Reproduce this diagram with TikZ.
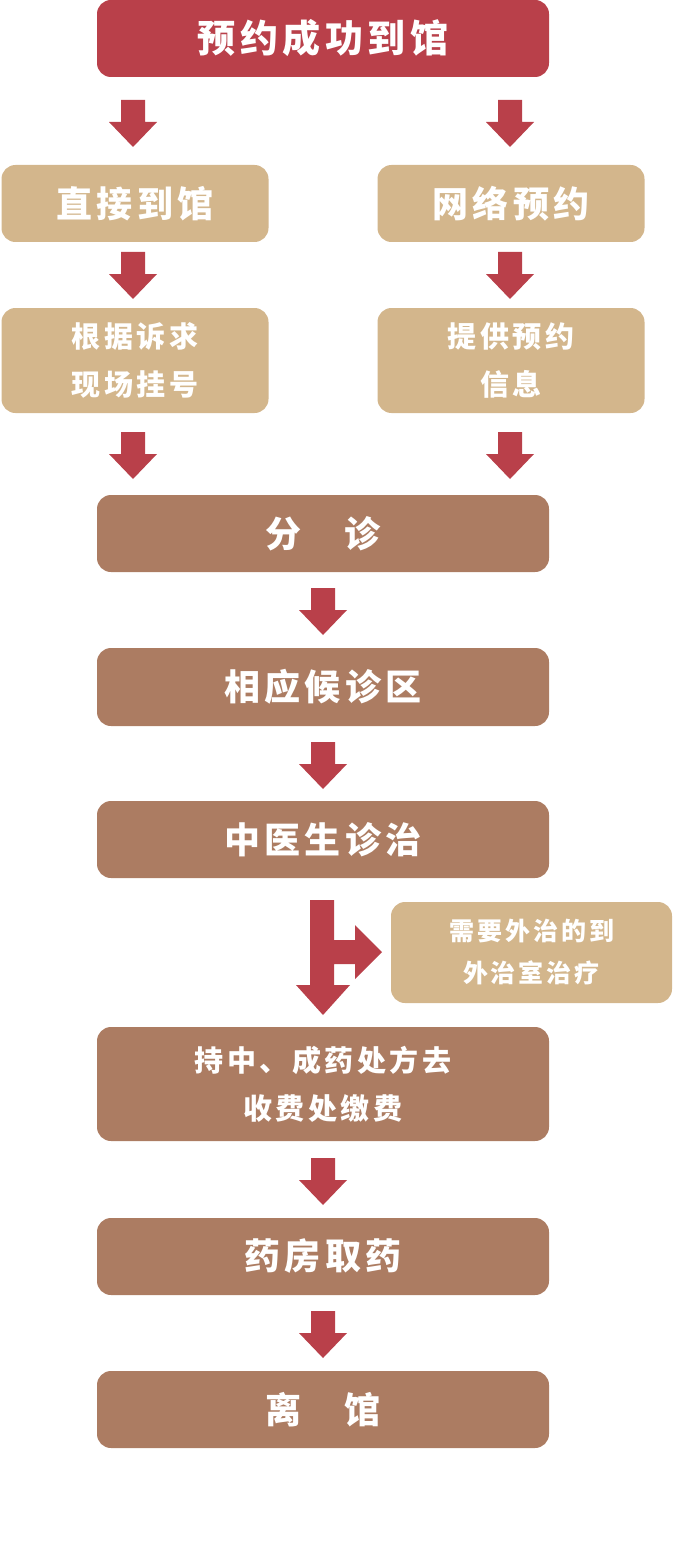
\documentclass[tikz,border=0pt]{standalone}
\usepackage{fontspec}
\newfontfamily\cjk{Noto Sans CJK SC}[LetterSpace=12]
\usetikzlibrary{positioning}
\definecolor{topred}{HTML}{B9404A}
\definecolor{tan}{HTML}{D3B68C}
\definecolor{brownbox}{HTML}{AC7C62}
\definecolor{arrowred}{HTML}{B9404A}
\tikzset{
  box/.style={rounded corners=14pt,text=white,align=center,font=\cjk\bfseries,inner sep=0pt},
  wide/.style={box,fill=brownbox,minimum width=452pt},
  side/.style={box,fill=tan,minimum width=267pt},
  downarr/.pic={\fill[arrowred] (-12,0) -- (12,0) -- (12,22) -- (24,22) -- (0,47) -- (-24,22) -- (-12,22) -- cycle;}
}
\begin{document}
\begin{tikzpicture}[x=1pt,y=-1pt]
\useasboundingbox (0,0) rectangle (672,1562);
\node[box,fill=topred,minimum width=452pt,minimum height=77pt,font=\cjk\bfseries\fontsize{38}{44}\selectfont] (start) at (323,38.5) {预约成功到馆};
\node[side,minimum height=77pt,font=\cjk\bfseries\fontsize{36}{42}\selectfont] (direct) at (135,203.5) {直接到馆};
\node[side,minimum height=77pt,font=\cjk\bfseries\fontsize{36}{42}\selectfont] (online) at (511,203.5) {网络预约};
\node[side,minimum height=105pt,font=\cjk\bfseries\fontsize{29}{48}\selectfont] (register) at (135,360.5) {根据诉求\\现场挂号};
\node[side,minimum height=105pt,font=\cjk\bfseries\fontsize{29}{48}\selectfont] (info) at (511,360.5) {提供预约\\信息};
\node[wide,minimum height=77pt,font=\cjk\bfseries\fontsize{36}{42}\selectfont] (triage) at (323,533.5) {分\hspace{1.2em}诊};
\node[wide,minimum height=78pt,font=\cjk\bfseries\fontsize{36}{42}\selectfont] (waiting) at (323,687) {相应候诊区};
\node[wide,minimum height=77pt,font=\cjk\bfseries\fontsize{36}{42}\selectfont] (doctor) at (323,839.5) {中医生诊治};
\node[box,fill=tan,minimum width=281pt,minimum height=101pt,font=\cjk\bfseries\fontsize{25}{42}\selectfont] (external) at (531.5,952.5) {需要外治的到\\外治室治疗};
\node[wide,minimum height=114pt,font=\cjk\bfseries\fontsize{29}{48}\selectfont] (pay) at (323,1084) {持中、成药处方去\\收费处缴费};
\node[wide,minimum height=77pt,font=\cjk\bfseries\fontsize{36}{42}\selectfont] (pharmacy) at (323,1256.5) {药房取药};
\node[wide,minimum height=77pt,font=\cjk\bfseries\fontsize{36}{42}\selectfont] (leave) at (323,1409.5) {离\hspace{1.2em}馆};
% arrows
\pic at (133,100) {downarr};
\pic at (510,100) {downarr};
\pic at (133,252) {downarr};
\pic at (510,252) {downarr};
\pic at (133,432) {downarr};
\pic at (510,432) {downarr};
\pic at (323,588) {downarr};
\pic at (323,742) {downarr};
\pic at (323,1158) {downarr};
\pic at (323,1311) {downarr};
% branching arrow
\fill[arrowred] (310,900) -- (334,900) -- (334,940) -- (355,940) -- (355,925) -- (382,952) -- (355,979) -- (355,964) -- (334,964) -- (334,985) -- (350,985) -- (323,1015) -- (296,985) -- (310,985) -- cycle;
\end{tikzpicture}
\end{document}
